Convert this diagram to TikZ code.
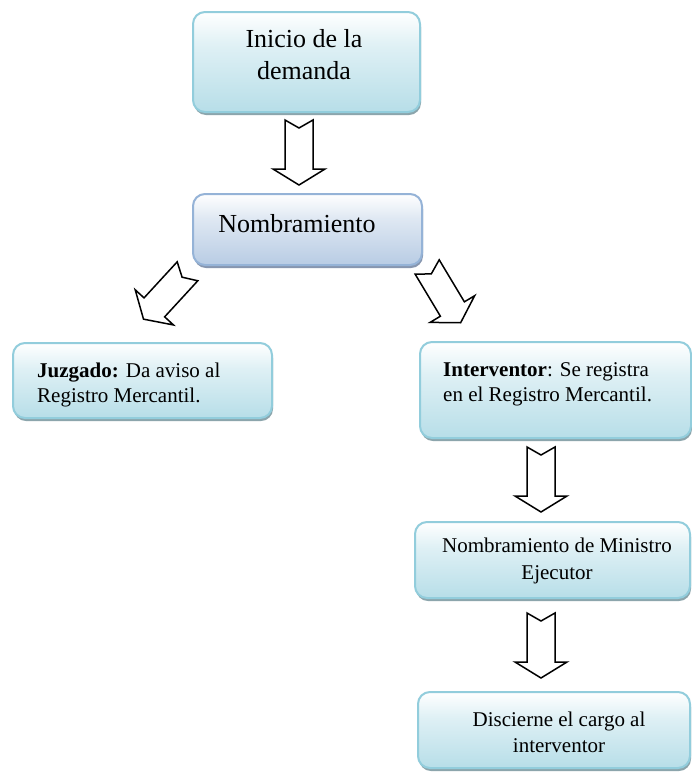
\documentclass[tikz,border=0pt]{standalone}
\usepackage{fontspec}
\setmainfont{Liberation Serif}
\usetikzlibrary{shadows}
\definecolor{aqualine}{RGB}{146,205,220}
\definecolor{aquafill}{RGB}{183,222,232}
\definecolor{blueline}{RGB}{149,179,215}
\definecolor{bluefill}{RGB}{184,204,228}
\definecolor{aquashadow}{RGB}{140,165,172}
\definecolor{blueshadow}{RGB}{135,150,175}
\pgfdeclareverticalshading{aquashade}{100bp}{color(0bp)=(aquafill); color(25bp)=(aquafill); color(58bp)=(aquafill!45!white); color(75bp)=(white); color(100bp)=(white)}
\pgfdeclareverticalshading{blueshade}{100bp}{color(0bp)=(bluefill); color(25bp)=(bluefill); color(58bp)=(bluefill!45!white); color(75bp)=(white); color(100bp)=(white)}
\tikzset{
  aquabox/.style={rounded corners=12pt, line width=2pt, inner sep=0pt, draw=aqualine, shade, shading=aquashade,
    drop shadow={shadow xshift=1pt, shadow yshift=-3pt, fill=aquashadow, opacity=1}},
  bluebox/.style={rounded corners=12pt, line width=2pt, inner sep=0pt, draw=blueline, shade, shading=blueshade,
    drop shadow={shadow xshift=1pt, shadow yshift=-3pt, fill=blueshadow, opacity=1}},
  bigtext/.style={font=\fontsize{26}{32}\selectfont, align=center, inner sep=0pt},
  smalltext/.style={font=\fontsize{21}{25}\selectfont, align=left, inner sep=0pt},
  ctext/.style={font=\fontsize{21}{27}\selectfont, align=center, inner sep=0pt},
  arrowline/.style={draw=black, line width=1.5pt, fill=white, line join=miter},
  blockarrow/.pic={\path[arrowline] (-14,0) -- (0,-8) -- (14,0) -- (14,-49) -- (26,-49) -- (0,-65) -- (-26,-49) -- (-14,-49) -- cycle;}
}
\begin{document}
\begin{tikzpicture}[x=1pt,y=1pt]
\useasboundingbox[fill=white] (0,0) rectangle (692,-772);
% boxes
\node[aquabox, minimum width=227pt, minimum height=100pt] (b1) at (306.5,-62) {};
\node[bluebox, minimum width=229pt, minimum height=71pt] (b2) at (307.5,-229.5) {};
\node[aquabox, minimum width=259pt, minimum height=75pt] (b3) at (142.5,-380.5) {};
\node[aquabox, minimum width=271pt, minimum height=96pt] (b4) at (555.5,-390) {};
\node[aquabox, minimum width=275pt, minimum height=76pt] (b5) at (552.5,-560) {};
\node[aquabox, minimum width=272pt, minimum height=76pt] (b6) at (554,-730) {};
% texts
\node[bigtext] (t1) at (304,-55) {Inicio de la\\demanda};
\node[bigtext] (t2) at (297,-224) {Nombramiento};
\node[smalltext, anchor=west] (t3) at (37,-384.5) {\textbf{Juzgado:} Da aviso al\\Registro Mercantil.};
\node[smalltext, anchor=west] (t4) at (443,-384.5) {\textbf{Interventor}: Se registra\\en el Registro Mercantil.};
\node[ctext] (t5) at (557,-561) {Nombramiento de Ministro\\Ejecutor};
\node[ctext, font=\fontsize{21}{26}\selectfont] (t6) at (559,-732.7) {Discierne el cargo al\\interventor};
% arrows
\pic (a1) at (299,-120) {blockarrow};
\pic[rotate=-42.6] (a2) at (187.5,-271.3) {blockarrow};
\pic[rotate=30.95] (a3) at (427.2,-267) {blockarrow};
\pic (a4) at (541,-447) {blockarrow};
\pic (a5) at (541,-613) {blockarrow};
\end{tikzpicture}
\end{document}
